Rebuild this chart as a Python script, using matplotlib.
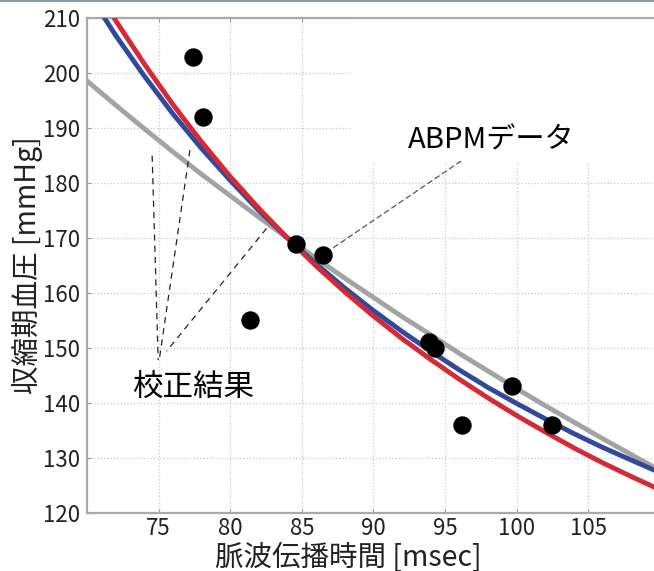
import numpy as np
import matplotlib
matplotlib.use('Agg')
import matplotlib.pyplot as plt
from matplotlib.patches import Rectangle
from matplotlib.lines import Line2D

plt.rcParams['font.family'] = ['Noto Sans CJK JP', 'DejaVu Sans']

# 測定データ (ABPM)
ptt = [77.4, 78.1, 81.4, 84.6, 86.5, 93.9, 94.3, 96.2, 99.7, 102.5]
sbp = [203, 192, 155, 169, 167, 151, 150, 136, 143, 136]

# 校正結果の曲線
curve_x = [70, 72, 74, 76, 78, 80, 82, 84, 86, 88, 90,
           92, 94, 96, 98, 100, 102, 104, 106, 108, 110]
curve_gray = [198.6, 194.2, 189.9, 185.7, 181.6, 177.7, 173.8, 170.0, 166.3, 162.7, 159.2,
              155.7, 152.4, 149.0, 145.8, 142.6, 139.5, 136.5, 133.5, 130.6, 127.7]
curve_blue = [215.0, 206.9, 199.5, 192.6, 186.3, 180.5, 175.0, 170.0, 165.3, 160.9, 156.8,
              153.0, 149.4, 146.0, 142.8, 139.9, 137.1, 134.4, 131.9, 129.6, 127.3]
curve_red = [218.3, 209.6, 201.7, 194.3, 187.5, 181.2, 175.4, 170.0, 164.9, 160.2, 155.8,
             151.7, 147.9, 144.3, 140.9, 137.7, 134.7, 131.8, 129.1, 126.6, 124.2]

x_ticks = [75, 80, 85, 90, 95, 100, 105]
y_ticks = [120, 130, 140, 150, 160, 170, 180, 190, 200, 210]

# 校正結果の引き出し線 (上端, 下端)
calib_lines = [((74.55, 185.0), (74.97, 147.8)),
               ((77.19, 186.0), (75.05, 147.9)),
               ((82.54, 171.75), (75.56, 149.4))]

fig = plt.figure(figsize=(6.54, 5.71), dpi=100)
ax = fig.add_axes([87 / 654, 58.3 / 571, 567 / 654, 494.4 / 571])
ax.set_axisbelow(True)

ax.grid(True, linestyle=':', color='#c8c8c8', linewidth=0.9)

# ABPMデータの背景 (白)
ax.add_patch(Rectangle((0.464, 0.709), 0.6, 0.4, transform=ax.transAxes,
                       facecolor='white', edgecolor='none', zorder=1))

ax.plot(curve_x, curve_gray, color='#a3a3a3', linewidth=3.5, zorder=2)
ax.plot(curve_x, curve_blue, color='#2f4a9c', linewidth=3.5, zorder=3)
ax.plot(curve_x, curve_red, color='#d42a35', linewidth=3.5, zorder=4)

ax.scatter(ptt, sbp, s=150, color='black', zorder=6)

for (x0, y0), (x1, y1) in calib_lines:
    ax.plot([x0, x1], [y0, y1], color='#222222', linewidth=0.9,
            dashes=(5, 4), zorder=5)

ax.text(77.47, 142.8, '校正結果', fontsize=22, ha='center', va='center', zorder=7)

ax.annotate('ABPMデータ', xy=(86.5, 167), xytext=(98.26, 187.8),
            fontsize=21, ha='center', va='center', zorder=7,
            bbox=dict(boxstyle='square,pad=0.2', facecolor='white', edgecolor='none'),
            arrowprops=dict(arrowstyle='-', color='#555555', linewidth=0.9,
                            linestyle=(0, (4, 3)), shrinkA=0, shrinkB=6))

ax.set_xlim(70, 109.6)
ax.set_ylim(120, 210)
ax.set_xticks(x_ticks)
ax.set_yticks(y_ticks)
ax.tick_params(direction='in', length=3, color='#999999', labelcolor='#222222',
               labelsize=16, top=True, right=False)
ax.tick_params(axis='x', pad=3)
ax.tick_params(axis='y', pad=5)

for side in ['left', 'bottom', 'top']:
    ax.spines[side].set_color('#aaaaaa')
    ax.spines[side].set_linewidth(1.6)
ax.spines['right'].set_visible(False)

ax.set_xlabel('脈波伝播時間 [msec]', fontsize=20.5, color='#222222')
ax.set_ylabel('収縮期血圧 [mmHg]', fontsize=20.5, color='#222222')
ax.xaxis.set_label_coords(0.46, -0.06)
ax.yaxis.set_label_coords(-0.078, 0.5)

# 上端の枠線
fig.add_artist(Line2D([0, 1], [0.998, 0.998], transform=fig.transFigure,
                      color='#8a9bab', linewidth=1.5))

fig.savefig('out.png', dpi=100)
